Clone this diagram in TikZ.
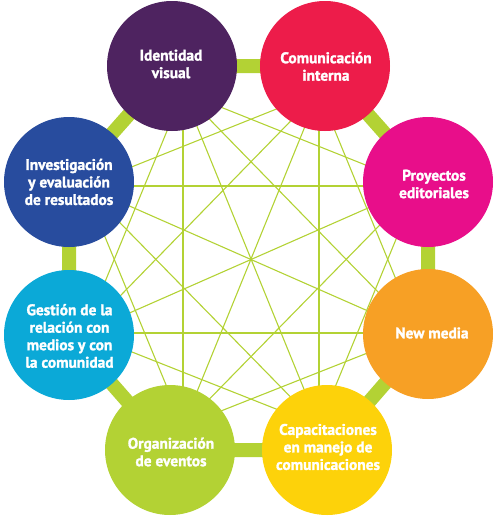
\documentclass[tikz,border=0pt]{standalone}
\usepackage{fontspec}
\setmainfont{PT Sans}[BoldFeatures={FakeBold=1.6}]
\usetikzlibrary{backgrounds}
\definecolor{cpurple}{HTML}{4E2360}
\definecolor{cred}{HTML}{ED1C4A}
\definecolor{cmagenta}{HTML}{E80E8A}
\definecolor{corange}{HTML}{F7A025}
\definecolor{cyellow}{HTML}{FDD20A}
\definecolor{clime}{HTML}{B3D234}
\definecolor{ccyan}{HTML}{0BA9D7}
\definecolor{cblue}{HTML}{284C9E}
\tikzset{
  bubble/.style={circle, minimum size=130pt, inner sep=0pt, draw=none},
  lbl/.style={text=white, font=\bfseries\fontsize{15.4}{17.5}\selectfont, align=center, inner sep=0pt},
  ring/.style={draw=clime, line width=14pt},
  web/.style={draw=clime, line width=1.1pt}
}
\begin{document}
\begin{tikzpicture}[x=1pt,y=-1pt]
\useasboundingbox (0,0) rectangle (497,525);
% circles
\node[bubble, fill=cpurple]  (iden) at (172,66)  {};
\node[bubble, fill=cred]     (comm) at (325,66)  {};
\node[bubble, fill=cmagenta] (proy) at (428,182) {};
\node[bubble, fill=corange]  (newm) at (428,334) {};
\node[bubble, fill=cyellow]  (capa) at (327,450) {};
\node[bubble, fill=clime]    (orga) at (170,450) {};
\node[bubble, fill=ccyan]    (gest) at (69,335)  {};
\node[bubble, fill=cblue]    (inve) at (69,182)  {};
% web anchor points (hidden inside the circles)
\coordinate (q1) at (183,92);
\coordinate (q2) at (319,92);
\coordinate (q3) at (418,186);
\coordinate (q4) at (418,333);
\coordinate (q5) at (319,426);
\coordinate (q6) at (183,426);
\coordinate (q7) at (84,333);
\coordinate (q8) at (84,186);
\begin{scope}[on background layer]
  \foreach \a/\b in {1/3,1/4,1/5,1/6,1/7,2/4,2/5,2/6,2/7,2/8,3/5,3/6,3/7,3/8,4/6,4/7,4/8,5/7,5/8,6/8}
    \draw[web] (q\a) -- (q\b);
  \draw[ring] (iden.center) -- (comm.center) -- (proy.center) -- (newm.center)
              -- (capa.center) -- (orga.center) -- (gest.center) -- (inve.center) -- cycle;
\end{scope}
% labels
\node[lbl] (t1) at (171,64)  {Identidad\\visual};
\node[lbl] (t2) at (326,66.5) {Comunicación\\interna};
\node[lbl] (t3) at (434,184) {Proyectos\\editoriales};
\node[lbl] (t4) at (432,333) {New media};
\node[lbl] (t5) at (328,447) {Capacitaciones\\en manejo de\\comunicaciones};
\node[lbl] (t6) at (171,452) {Organización\\de eventos};
\node[lbl] (t7) at (69.5,336) {Gestión de la\\relación con\\medios y con\\la comunidad};
\node[lbl] (t8) at (69,182)  {Investigación\\y evaluación\\de resultados};
\end{tikzpicture}
\end{document}
